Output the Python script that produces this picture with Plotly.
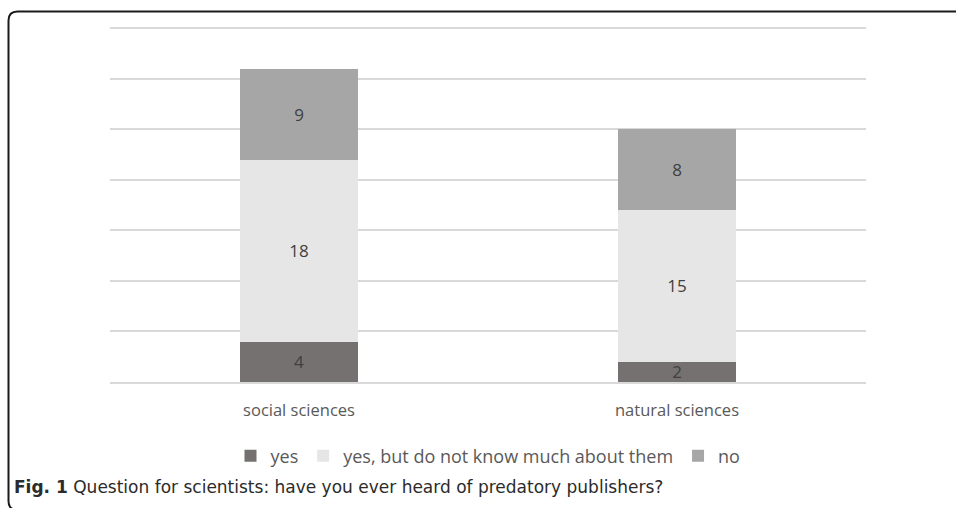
import plotly.graph_objects as go

categories = ["social sciences", "natural sciences"]
series_names = ["yes", "yes, but do not know much about them", "no"]
yes_vals = [4, 2]
yes_but_vals = [18, 15]
no_vals = [9, 8]
colors = ["#767171", "#e7e6e6", "#a6a6a6"]
caption_bold = "Fig. 1"
caption_text = "Question for scientists: have you ever heard of predatory publishers?"

W, H = 956, 508
ML, MR, MT, MB = 110, 90, 24, 126
PW, PH = W - ML - MR, H - MT - MB


def px(x):
    return (x - ML) / PW


def py(y):
    return (H - MB - y) / PH


fig = go.Figure()
for name, vals, col in zip(series_names, [yes_vals, yes_but_vals, no_vals], colors):
    fig.add_trace(go.Bar(
        x=categories, y=vals, name=name,
        marker=dict(color=col, line=dict(width=0)),
        text=vals, textposition="inside", insidetextanchor="middle", textangle=0,
        textfont=dict(color="#404040", size=17, family="Open Sans"),
        hoverinfo="skip",
    ))

# frame with rounded corners
r = 9
x0, y0 = 8.5, 11.5
path = (f"M {px(W + 20)},{py(y0)} L {px(x0 + r)},{py(y0)} "
        f"Q {px(x0)},{py(y0)} {px(x0)},{py(y0 + r)} "
        f"L {px(x0)},{py(501)} Q {px(x0)},{py(510)} {px(x0 + r)},{py(510)} "
        f"L {px(W + 20)},{py(510)}")
fig.add_shape(type="path", path=path, xref="paper", yref="paper",
              line=dict(color="#1a1a1a", width=2), layer="above")

fig.add_annotation(
    x=px(12), y=py(487), xref="paper", yref="paper", xanchor="left", yanchor="middle",
    text=f"<b>{caption_bold}</b> {caption_text}", showarrow=False,
    font=dict(family="DejaVu Sans", size=17, color="#2b2b2b"),
)

fig.update_layout(
    width=W, height=H,
    margin=dict(l=ML, r=MR, t=MT, b=MB, pad=0),
    barmode="stack", bargap=0.69,
    paper_bgcolor="white", plot_bgcolor="white",
    font=dict(family="Open Sans", color="#595959", size=18),
    uniformtext=dict(mode="show", minsize=17),
    showlegend=True,
    legend=dict(orientation="h", x=0.5, xanchor="center", y=py(456), yanchor="middle",
                font=dict(size=18, color="#595959"), traceorder="normal",
                itemwidth=30, tracegroupgap=0),
    xaxis=dict(showgrid=False, showline=True, linecolor="#d9d9d9", linewidth=1.5,
               ticks="", tickfont=dict(size=16.5, color="#595959"), ticklabelstandoff=12),
    yaxis=dict(range=[0, 35.4], tick0=0, dtick=5, showgrid=True, gridcolor="#d9d9d9", gridwidth=1.5,
               showticklabels=False, zeroline=False, fixedrange=True),
)

fig.write_html("out.html", config={"displayModeBar": False},
               post_script="document.body.style.margin='0';document.body.style.overflow='hidden';")
